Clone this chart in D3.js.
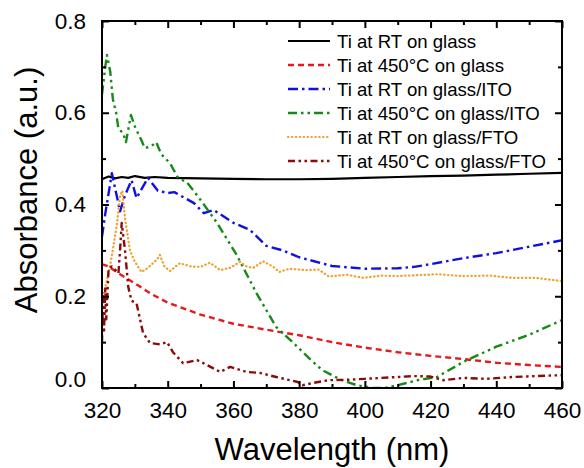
<!DOCTYPE html>
<html>
<head>
<meta charset="utf-8">
<script src="https://cdn.jsdelivr.net/npm/d3@7"></script>
<style>
  body { margin: 0; background: #fff; }
  text { font-family: "Liberation Sans", Arial, sans-serif; fill: #000; }
</style>
</head>
<body>
<div id="chart"></div>
<script>
// series data (wavelength nm, absorbance a.u.)
var rtGlassX = [320, 322, 324, 326, 328, 330, 333, 336, 340, 350, 360, 370, 380, 390, 400, 410, 420, 430, 440, 450, 460];
var rtGlassY = [0.455, 0.461, 0.457, 0.460, 0.458, 0.462, 0.458, 0.460, 0.458, 0.457, 0.456, 0.455, 0.455, 0.456, 0.458, 0.460, 0.462, 0.463, 0.465, 0.467, 0.469];

var htGlassX = [320, 322, 325, 330, 335, 340, 350, 360, 370, 380, 390, 400, 410, 420, 430, 440, 450, 460];
var htGlassY = [0.27, 0.265, 0.25, 0.228, 0.205, 0.186, 0.16, 0.14, 0.127, 0.115, 0.1, 0.088, 0.078, 0.07, 0.063, 0.055, 0.05, 0.046];

var rtItoX = [320, 321, 323, 325.5, 327, 329, 330.5, 334, 337, 340, 342, 345, 348, 351, 354, 360, 365, 370, 375, 380, 390, 400, 410, 415, 420, 430, 440, 450, 460];
var rtItoY = [0.33, 0.38, 0.468, 0.385, 0.42, 0.453, 0.414, 0.458, 0.43, 0.425, 0.427, 0.415, 0.403, 0.381, 0.388, 0.36, 0.345, 0.31, 0.3, 0.285, 0.266, 0.26, 0.261, 0.264, 0.27, 0.283, 0.294, 0.308, 0.322];

var htItoX = [320, 321, 321.5, 322.5, 323.3, 324.3, 325, 326.4, 327.3, 328.8, 330, 332, 333, 335, 336.5, 338, 340.7, 343, 346, 350, 355, 361, 367, 373, 378, 383, 387, 393, 397.6, 402.5, 406, 410, 416, 422, 430, 440, 450, 460];
var htItoY = [0.64, 0.70, 0.726, 0.69, 0.63, 0.60, 0.565, 0.556, 0.536, 0.595, 0.57, 0.54, 0.523, 0.527, 0.536, 0.51, 0.49, 0.46, 0.447, 0.41, 0.36, 0.29, 0.207, 0.133, 0.10, 0.065, 0.039, 0.017, 0.006, 0.0, 0.0, 0.006, 0.017, 0.024, 0.057, 0.09, 0.116, 0.148];

var rtFtoX = [320, 321, 322.4, 323.5, 324.6, 325.5, 326.2, 327, 328.5, 330, 332, 334, 336.7, 337.6, 339, 340.7, 343.7, 347, 350, 352.8, 356, 359, 362, 364, 366, 369, 372, 374, 377, 382, 386, 389, 394.5, 399.5, 405, 410, 416, 422, 430, 438, 445, 452, 460];
var rtFtoY = [0.19, 0.22, 0.264, 0.31, 0.36, 0.42, 0.43, 0.37, 0.30, 0.275, 0.253, 0.262, 0.28, 0.29, 0.265, 0.255, 0.272, 0.265, 0.264, 0.273, 0.257, 0.262, 0.275, 0.265, 0.262, 0.276, 0.265, 0.253, 0.26, 0.257, 0.258, 0.243, 0.247, 0.24, 0.245, 0.244, 0.246, 0.248, 0.244, 0.245, 0.24, 0.24, 0.233];

var htFtoX = [320, 320.3, 320.6, 321, 321.3, 322, 323, 324, 325, 325.5, 326, 327, 328, 329, 330.5, 332.5, 334.6, 337.6, 339.8, 341.6, 344.7, 348.9, 352, 356, 359, 364, 368, 373, 379.6, 381, 385, 389, 395, 400, 405, 410, 415, 420, 423.8, 430, 437, 445, 452, 460];
var htFtoY = [0.10, 0.20, 0.12, 0.22, 0.15, 0.26, 0.265, 0.258, 0.25, 0.30, 0.36, 0.30, 0.22, 0.19, 0.185, 0.12, 0.098, 0.095, 0.10, 0.078, 0.054, 0.061, 0.05, 0.035, 0.046, 0.035, 0.033, 0.024, 0.013, 0.006, 0.012, 0.017, 0.018, 0.02, 0.022, 0.024, 0.026, 0.025, 0.017, 0.022, 0.02, 0.024, 0.026, 0.028];

var seriesNames = ["Ti at RT on glass", "Ti at 450°C on glass", "Ti at RT on glass/ITO",
  "Ti at 450°C on glass/ITO", "Ti at RT on glass/FTO", "Ti at 450°C on glass/FTO"];
var xTicks = [320, 340, 360, 380, 400, 420, 440, 460];
var yTicks = [0.0, 0.2, 0.4, 0.6, 0.8];

var series = [
  {name: seriesNames[0], xs: rtGlassX, ys: rtGlassY, color: "#000000", dash: null, w: 2.2},
  {name: seriesNames[1], xs: htGlassX, ys: htGlassY, color: "#e41a1c", dash: "6,4", w: 2.4},
  {name: seriesNames[2], xs: rtItoX, ys: rtItoY, color: "#1010e0", dash: "10,4,2.5,4", w: 2.4},
  {name: seriesNames[3], xs: htItoX, ys: htItoY, color: "#168a16", dash: "9,4,2.5,4,2.5,4", w: 2.4},
  {name: seriesNames[4], xs: rtFtoX, ys: rtFtoY, color: "#f0a030", dash: "0.5,3.4", w: 2.2, cap: "round"},
  {name: seriesNames[5], xs: htFtoX, ys: htFtoY, color: "#8b0a0a", dash: "7,3.5,2.5,3.5,2.5,3.5", w: 2.4}
];

var margin = {top: 21, right: 22, bottom: 80, left: 102},
  width = 584 - margin.left - margin.right,
  height = 468 - margin.top - margin.bottom;

var svg = d3.select("#chart")
.append("svg")
  .attr("width", 584)
  .attr("height", 468)
.append("g")
  .attr("transform", "translate(" + margin.left + "," + margin.top + ")");

var x = d3.scaleLinear().domain([320, 460]).range([0, width]);
var y = d3.scaleLinear().domain([0, 0.8]).range([height, 0]);

svg.append("defs").append("clipPath").attr("id", "clip")
  .append("rect").attr("width", width).attr("height", height);

// curves
var line = d3.line()
  .x(function(d) { return x(d[0]); })
  .y(function(d) { return y(d[1]); });

var plot = svg.append("g").attr("clip-path", "url(#clip)");
series.forEach(function(s) {
  var pts = s.xs.map(function(v, i) { return [v, s.ys[i]]; });
  plot.append("path")
    .datum(pts)
    .attr("d", line)
    .attr("fill", "none")
    .attr("stroke", s.color)
    .attr("stroke-width", s.w)
    .attr("stroke-dasharray", s.dash)
    .attr("stroke-linecap", s.cap || "butt")
    .attr("stroke-linejoin", "round");
});

// axes, ticks inward on all four sides
var xMinor = d3.range(330, 460, 20);
var yMinor = [0.1, 0.3, 0.5, 0.7];

function styleAxis(g) {
  g.select(".domain").remove();
  g.selectAll(".tick line").attr("stroke", "#000").attr("stroke-width", 2);
  g.selectAll("text").style("font-size", "22.5px");
}

svg.append("g")
  .attr("transform", "translate(0," + height + ")")
  .call(d3.axisBottom(x).tickValues(xTicks).tickSize(-7).tickPadding(14).tickFormat(d3.format("d")))
  .call(styleAxis);
svg.append("g")
  .attr("transform", "translate(0," + height + ")")
  .call(d3.axisBottom(x).tickValues(xMinor).tickSize(-4).tickFormat(""))
  .call(styleAxis);
svg.append("g")
  .call(d3.axisTop(x).tickValues(xTicks).tickSize(-7).tickFormat(""))
  .call(styleAxis);
svg.append("g")
  .call(d3.axisTop(x).tickValues(xMinor).tickSize(-4).tickFormat(""))
  .call(styleAxis);

var yAxis = svg.append("g")
  .call(d3.axisLeft(y).tickValues(yTicks).tickSize(-7).tickPadding(16).tickFormat(d3.format(".1f")))
  .call(styleAxis);
yAxis.selectAll(".tick text").filter(function(d) { return d === 0; }).attr("dy", "-0.05em");
svg.append("g")
  .call(d3.axisLeft(y).tickValues(yMinor).tickSize(-4).tickFormat(""))
  .call(styleAxis);
svg.append("g")
  .attr("transform", "translate(" + width + ",0)")
  .call(d3.axisRight(y).tickValues(yTicks).tickSize(-7).tickFormat(""))
  .call(styleAxis);
svg.append("g")
  .attr("transform", "translate(" + width + ",0)")
  .call(d3.axisRight(y).tickValues(yMinor).tickSize(-4).tickFormat(""))
  .call(styleAxis);

// frame
svg.append("rect")
  .attr("width", width)
  .attr("height", height)
  .attr("fill", "none")
  .attr("stroke", "#000")
  .attr("stroke-width", 2);

// axis titles
svg.append("text")
  .attr("x", width / 2)
  .attr("y", 439)
  .attr("text-anchor", "middle")
  .style("font-size", "31px")
  .text("Wavelength (nm)");

svg.append("text")
  .attr("transform", "translate(-65," + 169 + ") rotate(-90)")
  .attr("text-anchor", "middle")
  .style("font-size", "31px")
  .text("Absorbance (a.u.)");

// legend
var legend = svg.append("g").attr("transform", "translate(186,20)");
series.forEach(function(s, i) {
  var row = legend.append("g").attr("transform", "translate(0," + (i * 24) + ")");
  row.append("line")
    .attr("x1", 0).attr("x2", 42)
    .attr("y1", 0).attr("y2", 0)
    .attr("stroke", s.color)
    .attr("stroke-width", s.w)
    .attr("stroke-dasharray", s.dash)
    .attr("stroke-linecap", s.cap || "butt");
  row.append("text")
    .attr("x", 49)
    .attr("y", 0)
    .attr("dy", "0.35em")
    .style("font-size", "18.6px")
    .text(s.name);
});
</script>
</body>
</html>
